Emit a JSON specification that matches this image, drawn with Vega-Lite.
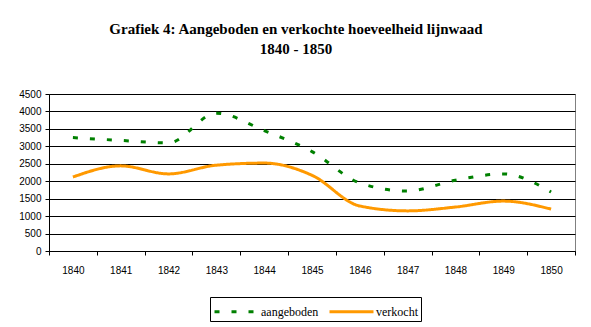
{
  "$schema": "https://vega.github.io/schema/vega-lite/v6.json",
  "width": 526,
  "height": 157,
  "autosize": "none",
  "padding": {"left": 49, "top": 94, "right": 16, "bottom": 76},
  "background": "white",
  "title": {
    "text": ["Grafiek 4: Aangeboden en verkochte hoeveelheid lijnwaad", "1840 - 1850"],
    "font": "Liberation Serif",
    "fontSize": 15,
    "fontWeight": "bold",
    "lineHeight": 20,
    "anchor": "middle",
    "dx": -16,
    "offset": 32,
    "color": "black"
  },
  "config": {
    "view": {"stroke": "#808080", "strokeWidth": 1},
    "axis": {
      "labelFont": "Liberation Sans",
      "labelFontSize": 10,
      "labelColor": "black",
      "domainColor": "black",
      "tickColor": "black",
      "tickSize": 4,
      "gridColor": "black",
      "gridOpacity": 1,
      "title": null
    }
  },
  "data": {
    "values": [
      {"jaar": "1840", "serie": "aangeboden", "waarde": 3250},
      {"jaar": "1841", "serie": "aangeboden", "waarde": 3170},
      {"jaar": "1842", "serie": "aangeboden", "waarde": 3100},
      {"jaar": "1843", "serie": "aangeboden", "waarde": 3950},
      {"jaar": "1844", "serie": "aangeboden", "waarde": 3450},
      {"jaar": "1845", "serie": "aangeboden", "waarde": 2850},
      {"jaar": "1846", "serie": "aangeboden", "waarde": 1950},
      {"jaar": "1847", "serie": "aangeboden", "waarde": 1720},
      {"jaar": "1848", "serie": "aangeboden", "waarde": 2030},
      {"jaar": "1849", "serie": "aangeboden", "waarde": 2210},
      {"jaar": "1850", "serie": "aangeboden", "waarde": 1690},
      {"jaar": "1840", "serie": "verkocht", "waarde": 2120},
      {"jaar": "1841", "serie": "verkocht", "waarde": 2440},
      {"jaar": "1842", "serie": "verkocht", "waarde": 2210},
      {"jaar": "1843", "serie": "verkocht", "waarde": 2460},
      {"jaar": "1844", "serie": "verkocht", "waarde": 2520},
      {"jaar": "1845", "serie": "verkocht", "waarde": 2170},
      {"jaar": "1846", "serie": "verkocht", "waarde": 1290},
      {"jaar": "1847", "serie": "verkocht", "waarde": 1150},
      {"jaar": "1848", "serie": "verkocht", "waarde": 1260},
      {"jaar": "1849", "serie": "verkocht", "waarde": 1430},
      {"jaar": "1850", "serie": "verkocht", "waarde": 1200}
    ]
  },
  "mark": {"type": "line", "interpolate": "monotone", "strokeWidth": 3},
  "encoding": {
    "x": {
      "field": "jaar",
      "type": "ordinal",
      "scale": {"paddingInner": 0, "paddingOuter": 0},
      "axis": {"labelAngle": 0, "tickBand": "extent", "labelPadding": 10, "grid": false}
    },
    "y": {
      "field": "waarde",
      "type": "quantitative",
      "scale": {"domain": [0, 4500], "nice": false},
      "axis": {"values": [0, 500, 1000, 1500, 2000, 2500, 3000, 3500, 4000, 4500], "format": "d", "grid": true, "labelPadding": 4}
    },
    "color": {
      "field": "serie",
      "type": "nominal",
      "scale": {"domain": ["aangeboden", "verkocht"], "range": ["#008000", "#FF9900"]},
      "legend": {
        "title": null,
        "orient": "none",
        "legendX": 161,
        "legendY": 203,
        "direction": "horizontal",
        "strokeColor": "black",
        "padding": 3,
        "symbolType": "M-1,0H3.4",
        "symbolSize": 400,
        "symbolStrokeWidth": 3,
        "labelFont": "Liberation Serif",
        "labelFontSize": 12,
        "labelColor": "black",
        "columnPadding": 4,
        "labelOffset": 25
      }
    },
    "strokeDash": {
      "field": "serie",
      "type": "nominal",
      "scale": {"domain": ["aangeboden", "verkocht"], "range": [[5, 12], [1, 0]]},
      "legend": null
    }
  }
}
